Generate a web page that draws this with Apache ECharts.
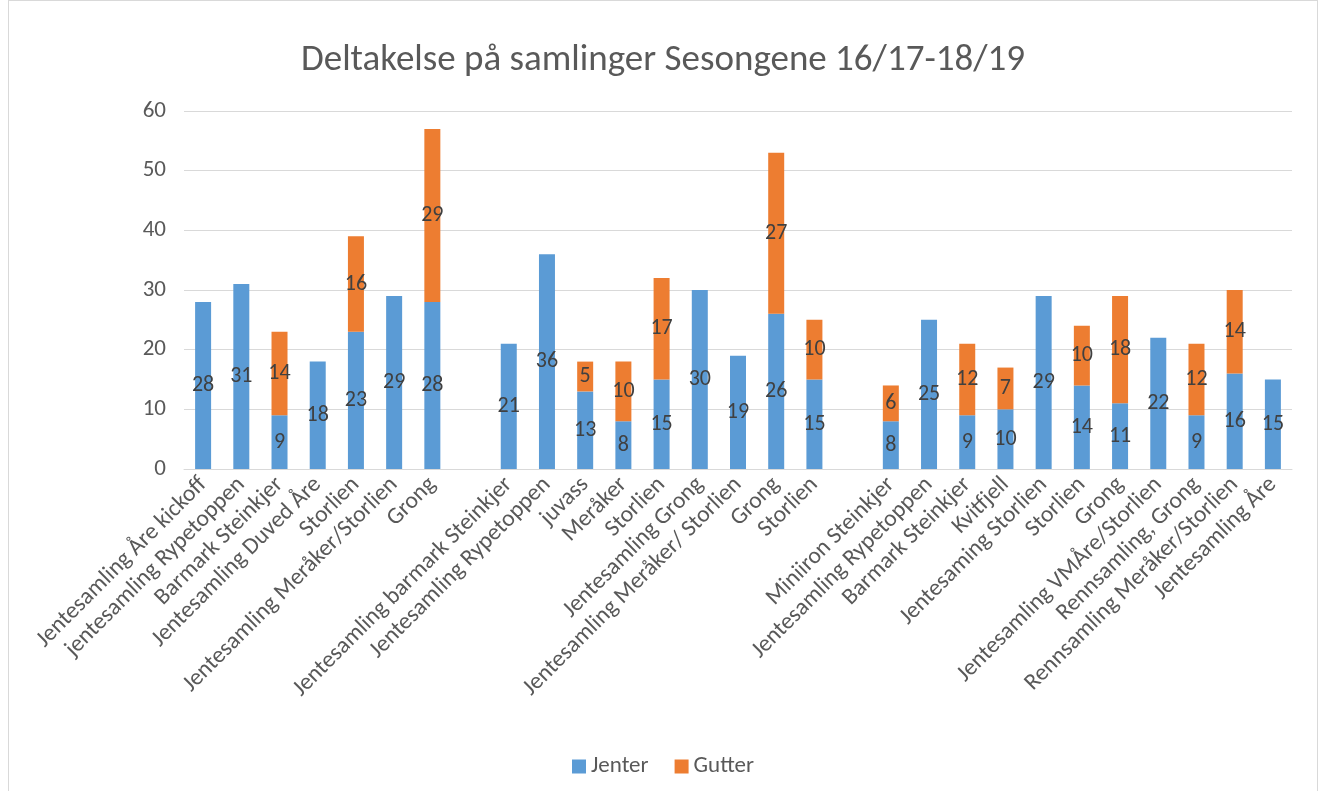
<!DOCTYPE html>
<html>
<head>
<meta charset="utf-8">
<script src="https://cdn.jsdelivr.net/npm/echarts@6/dist/echarts.min.js"></script>
<style>
  html, body { margin: 0; padding: 0; background: #fff; }
  #chart { position: absolute; left: 8px; top: 0; width: 1310px; height: 800px; border: 1px solid #d9d9d9; box-sizing: border-box; }
</style>
</head>
<body>
<div id="chart"></div>
<script>
// kategorier (tomme navn = mellomrom mellom sesongene)
const categories = [
  "Jentesamling Åre kickoff", "jentesamling Rypetoppen", "Barmark Steinkjer", "Jentesamling Duved Åre",
  "Storlien", "Jentesamling Meråker/Storlien", "Grong",
  "",
  "Jentesamling barmark Steinkjer", "Jentesamling Rypetoppen", "juvass", "Meråker", "Storlien",
  "Jentesamling Grong", "Jentesamling Meråker/ Storlien", "Grong", "Storlien",
  "",
  "Miniiron Steinkjer", "Jentesamling Rypetoppen", "Barmark Steinkjer", "Kvitfjell", "Jentesaming Storlien",
  "Storlien", "Grong", "Jentesamling VMÅre/Storlien", "Rennsamling, Grong", "Rennsamling Meråker/Storlien",
  "Jentesamling Åre"
];
const jenter = [28, 31, 9, 18, 23, 29, 28, "-", 21, 36, 13, 8, 15, 30, 19, 26, 15, "-",
  8, 25, 9, 10, 29, 14, 11, 22, 9, 16, 15];
const gutter = ["-", "-", 14, "-", 16, "-", 29, "-", "-", "-", 5, 10, 17, "-", "-", 27, 10, "-",
  6, "-", 12, 7, "-", 10, 18, "-", 12, 14, "-"];
const yTicks = { min: 0, max: 60, interval: 10 };

const font = "Carlito, Lato, 'Liberation Sans', sans-serif";
const chart = echarts.init(document.getElementById("chart"), null, { renderer: "canvas" });

const label = {
  show: true,
  position: "inside",
  color: "#404040",
  fontSize: 22,
  fontFamily: font,
};

chart.setOption({
  animation: false,
  textStyle: { fontFamily: font },
  title: {
    text: "Deltakelse på samlinger Sesongene 16/17-18/19",
    left: "center",
    top: 36,
    textStyle: { color: "#595959", fontSize: 37, fontWeight: "normal", fontFamily: font },
  },
  legend: {
    bottom: 16,
    left: "center",
    itemWidth: 14,
    itemHeight: 14,
    itemGap: 26,
    icon: "rect",
    textStyle: { color: "#595959", fontSize: 23, fontFamily: font },
    data: ["Jenter", "Gutter"],
  },
  grid: { left: 175, right: 25, top: 110, bottom: 330, containLabel: false },
  xAxis: {
    type: "category",
    data: categories,
    axisLine: { lineStyle: { color: "#d9d9d9" } },
    axisTick: { show: false },
    axisLabel: {
      interval: 0,
      rotate: 45,
      color: "#595959",
      fontSize: 23.5,
      fontFamily: font,
      margin: 12,
    },
  },
  yAxis: {
    type: "value",
    min: yTicks.min,
    max: yTicks.max,
    interval: yTicks.interval,
    axisLine: { show: false },
    axisTick: { show: false },
    axisLabel: { color: "#595959", fontSize: 23, fontFamily: font, margin: 18 },
    splitLine: { lineStyle: { color: "#d9d9d9" } },
  },
  series: [
    {
      name: "Jenter",
      type: "bar",
      stack: "total",
      barWidth: 16,
      itemStyle: { color: "#5b9bd5" },
      label,
      data: jenter,
    },
    {
      name: "Gutter",
      type: "bar",
      stack: "total",
      barWidth: 16,
      itemStyle: { color: "#ed7d31" },
      label,
      data: gutter,
    },
  ],
});
</script>
</body>
</html>
